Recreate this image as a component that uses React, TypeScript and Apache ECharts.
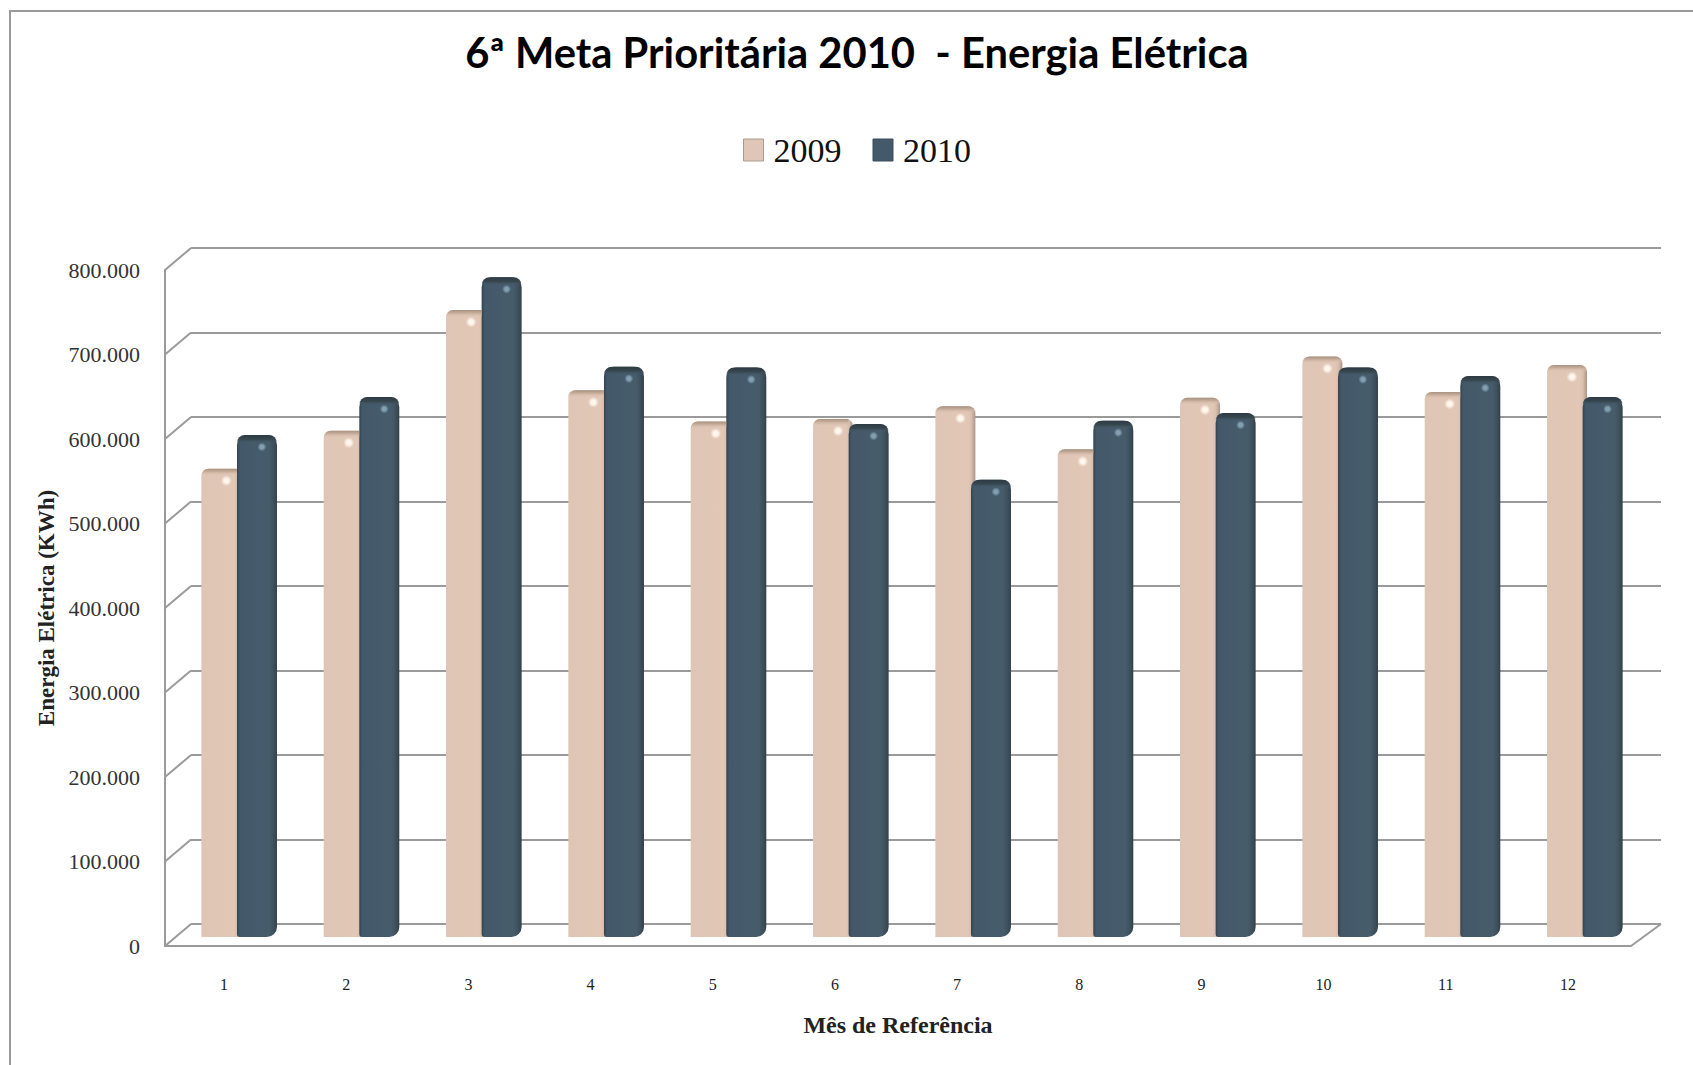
import React, { useEffect, useRef } from "react";
import * as echarts from "echarts";

const months = ["1", "2", "3", "4", "5", "6", "7", "8", "9", "10", "11", "12"];
const values2009 = [555000, 600000, 743000, 648000, 611000, 614000, 629000, 578000, 639000, 688000, 646000, 678000];
const values2010 = [595000, 640000, 782000, 676000, 675000, 608000, 542000, 612000, 621000, 675000, 665000, 640000];
const yTicks = [0, 100000, 200000, 300000, 400000, 500000, 600000, 700000, 800000];
const titleText = "6ª Meta Prioritária 2010  - Energia Elétrica";
const yTitle = "Energia Elétrica (KWh)";
const xTitle = "Mês de Referência";

const SERIF = "'Liberation Serif', serif";
const LINE = "#9a9a9a";
const BAR_W = 40;
const HALF = 17.75;

const fmt = (v: number) => String(v).replace(/\B(?=(\d{3})+(?!\d))/g, ".");

const hGrad = (stops: [number, string][]) =>
  new echarts.graphic.LinearGradient(0, 0, 1, 0, stops.map(([offset, color]) => ({ offset, color })));
const vGrad = (stops: [number, string][]) =>
  new echarts.graphic.LinearGradient(0, 0, 0, 1, stops.map(([offset, color]) => ({ offset, color })));
const spot = (inner: string, outer: string) =>
  new echarts.graphic.RadialGradient(0.5, 0.5, 0.5, [
    { offset: 0, color: inner },
    { offset: 0.4, color: inner },
    { offset: 1, color: outer },
  ]);

export default function App() {
  const ref = useRef<HTMLDivElement>(null);
  useEffect(() => {
    document.body.style.margin = "0";
    const chart = echarts.init(ref.current!, undefined, { renderer: "svg" });
    const hiddenAxis = { show: false };
    chart.setOption({
      animation: false,
      backgroundColor: "#ffffff",
      title: {
        text: titleText,
        left: 852,
        top: 26,
        textAlign: "center",
        textStyle: { fontFamily: "Lato, sans-serif", fontWeight: 700, fontSize: 41.7, color: "#000" },
      },
      legend: {
        left: 738,
        top: 128,
        itemWidth: 20,
        itemHeight: 22,
        itemGap: 31,
        selectedMode: false,
        textStyle: { fontFamily: SERIF, fontSize: 34, color: "#111", padding: [0, 0, 0, 5] },
        data: [
          { name: "2009", icon: "rect", itemStyle: { color: "#e0c6b6", borderColor: "#a89a90", borderWidth: 1 } },
          { name: "2010", icon: "rect", itemStyle: { color: "#44596a", borderColor: "#3a4c58", borderWidth: 1 } },
        ],
      },
      graphic: [
        {
          type: "polyline",
          silent: true,
          shape: { points: [[10, 1065], [10, 11], [1693, 11]] },
          style: { stroke: "#9a9a9a", lineWidth: 2, fill: "none" },
        },
      ],
      grid: [
        { left: 165, top: 270, width: 1466, height: 676 },
        { left: 191, top: 248, width: 1470, height: 676 },
        { left: 178, top: 262, width: 1468, height: 675 },
      ],
      xAxis: [
        {
          gridIndex: 0,
          type: "category",
          data: months,
          name: xTitle,
          nameLocation: "middle",
          nameGap: 67,
          nameTextStyle: { fontFamily: SERIF, fontWeight: "bold", fontSize: 24, color: "#222" },
          axisLine: { lineStyle: { color: LINE, width: 2 } },
          axisTick: { show: false },
          axisLabel: { margin: 30, fontFamily: SERIF, fontSize: 16, color: "#222", padding: [0, 4, 0, 0] },
        },
        { gridIndex: 1, type: "category", data: months, ...hiddenAxis },
        { gridIndex: 2, type: "category", data: months, ...hiddenAxis },
      ],
      yAxis: [
        {
          gridIndex: 0,
          type: "value",
          min: 0,
          max: 800000,
          interval: 100000,
          name: yTitle,
          nameLocation: "middle",
          nameGap: 107,
          nameTextStyle: { fontFamily: SERIF, fontWeight: "bold", fontSize: 23, color: "#222" },
          axisLine: { show: true, lineStyle: { color: LINE, width: 2 } },
          axisTick: { show: false },
          splitLine: { show: false },
          axisLabel: { margin: 25, fontFamily: SERIF, fontSize: 22, color: "#333", formatter: fmt, padding: [5, 0, 0, 0] },
        },
        {
          gridIndex: 1,
          type: "value",
          min: 0,
          max: 800000,
          interval: 100000,
          axisLine: { show: false },
          axisTick: { show: false },
          axisLabel: { show: false },
          splitLine: { show: true, lineStyle: { color: LINE, width: 2 } },
        },
        {
          gridIndex: 2,
          type: "value",
          min: 0,
          max: 800000,
          interval: 100000,
          axisLine: { show: false },
          axisTick: { show: false },
          axisLabel: { show: false },
          splitLine: { show: false },
        },
      ],
      series: [
        {
          type: "custom",
          name: "walls",
          xAxisIndex: 0,
          yAxisIndex: 0,
          silent: true,
          clip: false,
          z: 1,
          data: yTicks.map((v) => [v]),
          renderItem: (params: any, api: any) => {
            const cs = params.coordSys;
            const y = api.coord([months[0], api.value(0)])[1];
            const lineStyle = { stroke: LINE, lineWidth: 2 };
            const kids: any[] = [
              { type: "line", shape: { x1: cs.x, y1: y, x2: cs.x + 26, y2: y - 22 }, style: lineStyle },
            ];
            if (api.value(0) === 0) {
              kids.push({
                type: "line",
                shape: { x1: cs.x + cs.width, y1: y, x2: cs.x + cs.width + 30, y2: y - 22 },
                style: lineStyle,
              });
            }
            return { type: "group", children: kids };
          },
        },
        {
          type: "bar",
          name: "2009",
          xAxisIndex: 2,
          yAxisIndex: 2,
          data: values2009,
          barWidth: BAR_W,
          barGap: "-11%",
          z: 3,
          itemStyle: {
            color: hGrad([[0, "#dfc5b5"], [0.82, "#e2c7b7"], [0.9, "#d8bead"], [1, "#a89485"]]),
            borderRadius: [7, 7, 0, 0],
          },
        },
        {
          type: "bar",
          name: "2010",
          xAxisIndex: 2,
          yAxisIndex: 2,
          data: values2010,
          barWidth: BAR_W,
          z: 4,
          itemStyle: {
            color: hGrad([[0, "#35444f"], [0.08, "#43596a"], [0.8, "#475c6b"], [0.93, "#3c4e5a"], [1, "#333f48"]]),
            borderRadius: [10, 10, 10, 3],
          },
        },
        {
          type: "custom",
          name: "highlights",
          xAxisIndex: 2,
          yAxisIndex: 2,
          silent: true,
          clip: false,
          z: 5,
          data: months.map((m, i) => [i, values2009[i], values2010[i]]),
          renderItem: (_: any, api: any) => {
            const idx = api.value(0);
            const a = api.coord([idx, api.value(1)]);
            const b = api.coord([idx, api.value(2)]);
            const l = a[0] - HALF - BAR_W / 2;
            const bl = b[0] + HALF - BAR_W / 2;
            const hidden = b[1] < a[1] + 7;
            const capW = hidden ? 35.5 : BAR_W;
            return {
              type: "group",
              children: [
                {
                  type: "rect",
                  shape: { x: l, y: a[1], width: capW, height: 7, r: hidden ? [7, 0, 0, 0] : [7, 7, 0, 0] },
                  style: { fill: vGrad([[0, "#a8917f"], [0.45, "#c9af9d"], [1, "rgba(224,198,182,0)"]]) },
                },
                {
                  type: "circle",
                  shape: { cx: l + 25, cy: a[1] + 12, r: 5.5 },
                  style: { fill: spot("#fff6ec", "rgba(255,246,236,0)") },
                },
                {
                  type: "rect",
                  shape: { x: bl, y: b[1], width: BAR_W, height: 8, r: [10, 10, 0, 0] },
                  style: { fill: vGrad([[0, "#2c3943"], [0.55, "#37474f"], [1, "rgba(67,89,106,0)"]]) },
                },
                {
                  type: "circle",
                  shape: { cx: bl + 25, cy: b[1] + 12, r: 4.5 },
                  style: { fill: spot("#83a0b2", "rgba(131,160,178,0)") },
                },
              ],
            };
          },
        },
      ],
    });
    return () => chart.dispose();
  }, []);
  return <div ref={ref} style={{ width: 1693, height: 1065 }} />;
}
